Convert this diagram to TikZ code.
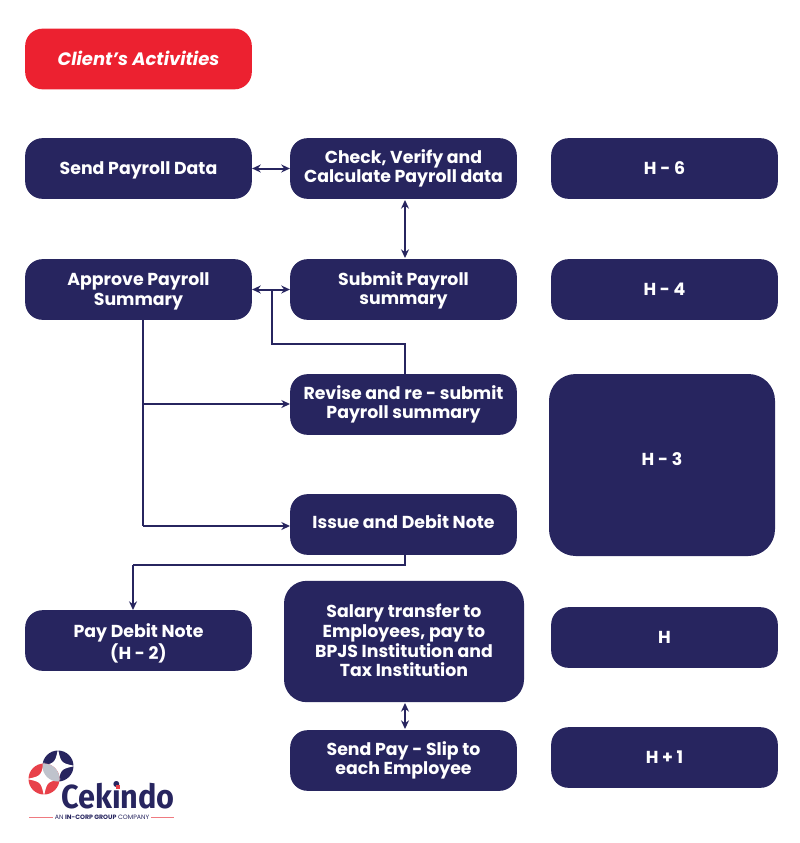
\documentclass[tikz,border=0pt]{standalone}
\usepackage{fontspec}
\setmainfont{Poppins}
\newfontfamily\brandfont{Fira Sans}
\usepackage{xcolor}
\usetikzlibrary{arrows.meta}
\definecolor{boxnavy}{HTML}{27255F}
\definecolor{boxred}{HTML}{EC2130}
\definecolor{logored}{HTML}{E8414A}
\definecolor{logogrey}{HTML}{BFC3CC}
\newcommand{\liftlines}[2]{\raisebox{#1}[\height][\depth]{\begin{tabular}{@{}c@{}}#2\end{tabular}}}
\tikzset{
  step box/.style={draw=none,fill=boxnavy,text=white,rounded corners=13pt,align=center,
    minimum width=170pt,minimum height=45.5pt,inner sep=0pt,font=\bfseries\fontsize{13}{14.6}\selectfont},
  link/.style={draw=boxnavy,line width=1.5pt},
  one way/.style={link,-{Stealth[length=6.5pt,width=6pt]}},
  two way/.style={link,{Stealth[length=6.5pt,width=6pt]}-{Stealth[length=6.5pt,width=6pt]}}
}
\begin{document}
\begin{tikzpicture}[x=0.75pt,y=-0.75pt]
\useasboundingbox (0,0) rectangle (800,843);
% header
\node[step box,fill=boxred,font=\bfseries\itshape\fontsize{13.5}{14.6}\selectfont] (client) at (138.5,59) {\raisebox{1pt}{Client’s Activities}};
% left column
\node[step box,text depth=0pt] (send) at (138.5,168.5) {Send Payroll Data};
\node[step box] (approve) at (138.5,289.5) {\liftlines{-1.5pt}{Approve Payroll\\Summary}};
\node[step box] (paynote) at (138.5,640.5) {\liftlines{-3pt}{Pay Debit Note\\(H - 2)}};
% middle column
\node[step box] (check) at (403.5,168.5) {Check, Verify and\\Calculate Payroll data};
\node[step box] (submit) at (403.5,289.5) {\liftlines{-1.2pt}{Submit Payroll\\summary}};
\node[step box] (revise) at (403.5,404.5) {Revise and re - submit\\Payroll summary};
\node[step box] (issue) at (403.5,524.5) {\liftlines{0pt}{Issue and Debit Note}};
\node[step box,minimum width=180pt,minimum height=91pt,rounded corners=17pt] (salary) at (404,641.5) {\liftlines{-1.5pt}{Salary transfer to\\Employees, pay to\\BPJS Institution and\\Tax Institution}};
\node[step box] (slip) at (403.5,760.5) {Send Pay - Slip to\\each Employee};
% right column
\foreach \y/\nm/\lbl in {168.5/hsix/H - 6,289.5/hfour/H - 4,637.5/hzero/H,757.5/hone/H + 1}
    \node[step box] (\nm) at (664.5,\y) {\lbl};
\node[step box,minimum width=169.5pt,minimum height=136.5pt,rounded corners=20pt] (hthree) at (662,465) {\liftlines{2.2pt}{H - 3}};
% connectors
\coordinate (trunk) at (143,320);
\coordinate (joint) at (272,289.5);
\coordinate (backup) at (272,344);
\coordinate (drop) at (405,565);
\coordinate (dropleft) at (133,565);
\draw[two way] (send.east) -- (check.west);
\draw[two way] (405,200) -- (405,258);
\draw[two way] (approve.east) -- (submit.west);
\draw[link] (405,374) -- (405,344) -- (backup) -- (joint);
\draw[link] (trunk) -- (143,526);
\draw[one way] (143,404) -- (290,404);
\draw[one way] (143,526) -- (290,526);
\draw[link] (405,555) -- (drop) -- (dropleft);
\draw[one way] (dropleft) -- (133,610);
\draw[two way] (405,703) -- (405,729);
% logo
\foreach \cx/\cy/\col in {58/766/boxnavy,44/779/logored}{
    \fill[\col] (\cx,\cy) circle (15.5);
    \fill[white] (\cx,\cy-17) .. controls (\cx+3,\cy-3) .. (\cx+17,\cy) .. controls (\cx+3,\cy+3) .. (\cx,\cy+17) .. controls (\cx-3,\cy+3) .. (\cx-17,\cy) .. controls (\cx-3,\cy-3) .. (\cx,\cy-17) -- cycle;
}
\begin{scope}
    \clip (58,766) circle (15.5);
    \fill[logogrey] (44,779) circle (15.5);
\end{scope}
\node[text=boxnavy,inner sep=0pt,anchor=base,font=\brandfont\bfseries\fontsize{25}{25}\selectfont] (brand) at (118,808) {\scalebox{0.92}[1]{Cekindo}};
\fill[logored] (115.5,784.5) rectangle (119.5,788.5);
\node[text=boxnavy,inner sep=0pt,font=\fontsize{4.7}{4.7}\selectfont] (tagline) at (102,817.5) {AN \textbf{IN-CORP GROUP} COMPANY};
\coordinate (ruleleft) at (29,817.5);
\coordinate (ruleright) at (174,817.5);
\draw[logored!70,line width=0.5pt] (ruleleft) -- ([xshift=-1pt]tagline.west);
\draw[logored!70,line width=0.5pt] ([xshift=1pt]tagline.east) -- (ruleright);
\end{tikzpicture}
\end{document}
